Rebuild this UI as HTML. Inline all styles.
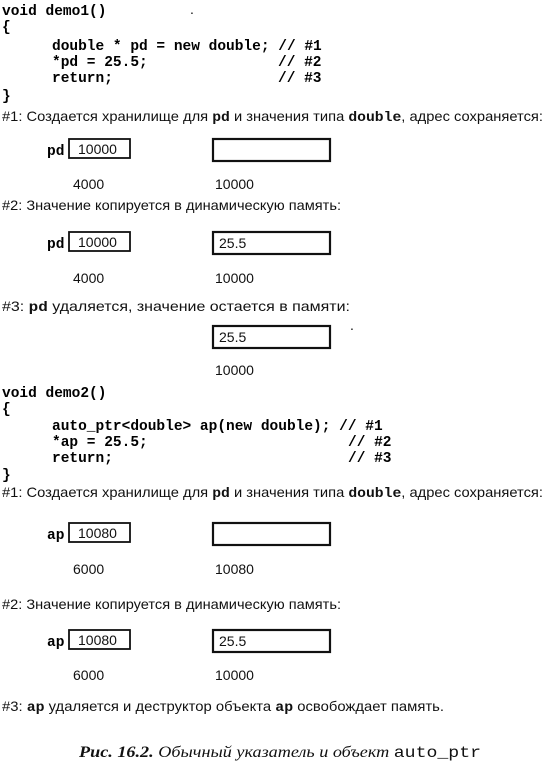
<!DOCTYPE html>
<html><head><meta charset="utf-8"><style>
html,body{margin:0;padding:0;background:#fff;}
svg{display:block}
.c{font-family:"Liberation Mono",monospace;font-weight:bold;font-size:14.5px;fill:#000}
.s{font-family:"Liberation Sans",sans-serif;font-size:14px;fill:#111}
.m{font-family:"Liberation Mono",monospace;font-weight:bold;fill:#111}
.b{fill:none;stroke:#111;stroke-width:1.8}
.b2{fill:none;stroke:#111;stroke-width:2.2}
</style></head><body>
<svg width="546" height="766" viewBox="0 0 546 766" xmlns="http://www.w3.org/2000/svg">
<!-- demo1 -->
<text class="c" x="2" y="15">void demo1()</text>
<text x="190" y="14" class="s">.</text>
<text class="c" x="2" y="31">{</text>
<text class="c" x="52" y="50" xml:space="preserve">double * pd = new double; // #1</text>
<text class="c" x="52" y="66" xml:space="preserve">*pd = 25.5;</text>
<text class="c" x="278" y="66" xml:space="preserve">// #2</text>
<text class="c" x="52" y="82" xml:space="preserve">return;</text>
<text class="c" x="278" y="82" xml:space="preserve">// #3</text>
<text class="c" x="2" y="100">}</text>
<text class="s" x="2" y="121" textLength="541" lengthAdjust="spacingAndGlyphs">#1: Создается хранилище для <tspan class="m">pd</tspan> и значения типа <tspan class="m">double</tspan>, адрес сохраняется:</text>

<text class="c" x="47" y="155">pd</text>
<rect class="b" x="69" y="139" width="61" height="19"/>
<text class="s" x="78" y="154">10000</text>
<rect class="b2" x="213" y="139" width="117" height="22"/>
<text class="s" x="73" y="189">4000</text>
<text class="s" x="215" y="189">10000</text>

<text class="s" x="2" y="210" textLength="339" lengthAdjust="spacingAndGlyphs">#2: Значение копируется в динамическую память:</text>
<text class="c" x="47" y="248">pd</text>
<rect class="b" x="69" y="232" width="61" height="19"/>
<text class="s" x="78" y="247">10000</text>
<rect class="b2" x="213" y="232" width="117" height="22"/>
<text class="s" x="219" y="248">25.5</text>
<text class="s" x="73" y="283">4000</text>
<text class="s" x="215" y="283">10000</text>

<text class="s" x="2" y="311" textLength="348" lengthAdjust="spacingAndGlyphs">#3: <tspan class="m">pd</tspan> удаляется, значение остается в памяти:</text>
<rect class="b2" x="213" y="326" width="117" height="22"/>
<text class="s" x="219" y="342">25.5</text>
<text class="s" x="215" y="375">10000</text>
<text class="s" x="350" y="330">.</text>

<!-- demo2 -->
<text class="c" x="2" y="397">void demo2()</text>
<text class="c" x="2" y="413">{</text>
<text class="c" x="52" y="430" xml:space="preserve">auto_ptr&lt;double&gt; ap(new double); // #1</text>
<text class="c" x="52" y="446" xml:space="preserve">*ap = 25.5;</text>
<text class="c" x="348" y="446" xml:space="preserve">// #2</text>
<text class="c" x="52" y="462" xml:space="preserve">return;</text>
<text class="c" x="348" y="462" xml:space="preserve">// #3</text>
<text class="c" x="2" y="479">}</text>
<text class="s" x="2" y="497" textLength="541" lengthAdjust="spacingAndGlyphs">#1: Создается хранилище для <tspan class="m">pd</tspan> и значения типа <tspan class="m">double</tspan>, адрес сохраняется:</text>

<text class="c" x="47" y="539">ap</text>
<rect class="b" x="69" y="523" width="61" height="19"/>
<text class="s" x="78" y="538">10080</text>
<rect class="b2" x="213" y="523" width="117" height="22"/>
<text class="s" x="73" y="574">6000</text>
<text class="s" x="215" y="574">10080</text>

<text class="s" x="2" y="609" textLength="339" lengthAdjust="spacingAndGlyphs">#2: Значение копируется в динамическую память:</text>
<text class="c" x="47" y="646">ap</text>
<rect class="b" x="69" y="630" width="61" height="19"/>
<text class="s" x="78" y="645">10080</text>
<rect class="b2" x="213" y="630" width="117" height="22"/>
<text class="s" x="219" y="646">25.5</text>
<text class="s" x="73" y="680">6000</text>
<text class="s" x="215" y="680">10000</text>

<text class="s" x="2" y="711" textLength="442" lengthAdjust="spacingAndGlyphs">#3: <tspan class="m">ap</tspan> удаляется и деструктор объекта <tspan class="m">ap</tspan> освобождает память.</text>

<text x="79" y="757" textLength="402" lengthAdjust="spacingAndGlyphs" style="font-family:'Liberation Serif',serif;font-size:16px;font-style:italic;fill:#111"><tspan font-weight="bold">Рис. 16.2.</tspan> Обычный указатель и объект <tspan style="font-family:'Liberation Mono',monospace;font-style:normal">auto_ptr</tspan></text>
</svg>
</body></html>
